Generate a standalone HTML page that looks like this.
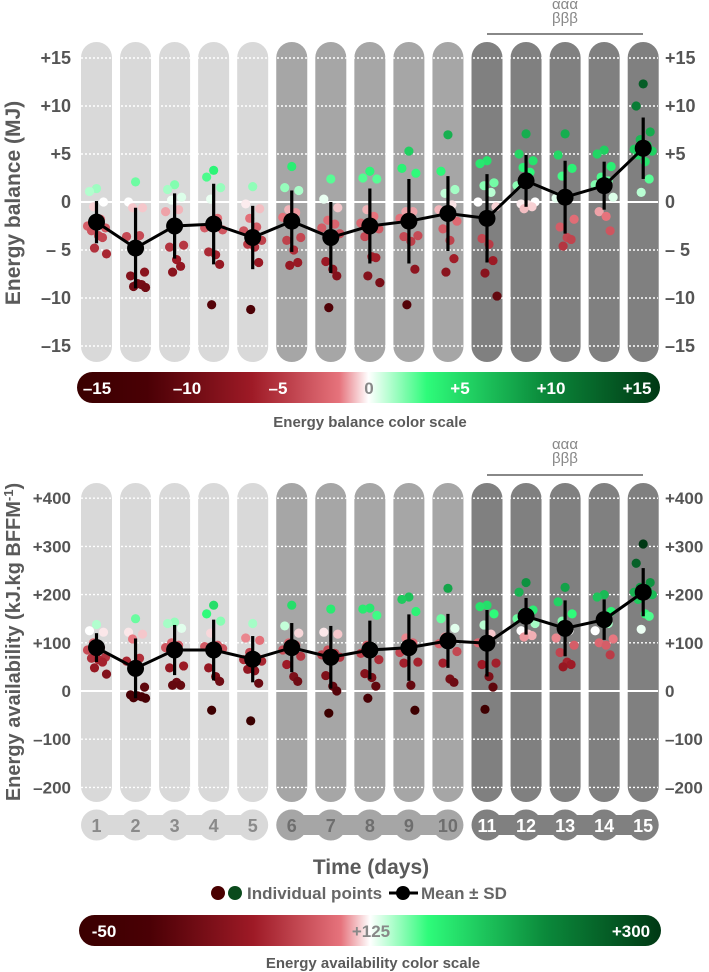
<!DOCTYPE html>
<html><head><meta charset="utf-8">
<style>
html,body{margin:0;padding:0;background:#fff;}
svg{display:block;font-family:"Liberation Sans",sans-serif;font-weight:bold;}
</style></head>
<body>
<svg id="fig" width="709" height="972" viewBox="0 0 709 972" xmlns="http://www.w3.org/2000/svg">
<defs>
<linearGradient id="gradEB" x1="0" x2="1" y1="0" y2="0">
<stop offset="0" stop-color="#3a0000"/><stop offset="0.12" stop-color="#4a0005"/><stop offset="0.3" stop-color="#9e1a26"/>
<stop offset="0.45" stop-color="#e6737c"/><stop offset="0.5" stop-color="#ffffff"/><stop offset="0.6" stop-color="#2efb7a"/>
<stop offset="0.8" stop-color="#0b8a3b"/><stop offset="1" stop-color="#003814"/>
</linearGradient>
</defs>
<g id="top"></g>
<g id="bottom"></g>
<g id="legend"></g>
</svg>
<script>
// ---------- data ----------
var days = [1,2,3,4,5,6,7,8,9,10,11,12,13,14,15];
var ebMean = [-2.1,-4.8,-2.5,-2.3,-3.7,-2.0,-3.7,-2.5,-2.0,-1.2,-1.7,2.2,0.5,1.7,5.6];
var ebSD   = [2.2,4.2,3.4,4.2,3.3,3.2,3.7,3.9,4.4,3.9,4.6,2.7,3.8,2.5,3.2];
var ebPoints = [
 [1.4,1.1,0,-0.5,-1.8,-2.5,-2.7,-3.0,-3.5,-3.7,-4.8,-5.4],
 [2.1,0,-0.6,-0.6,-3.5,-3.6,-7.3,-7.7,-8.5,-8.6,-8.8,-8.9],
 [1.8,1.3,0.5,0.2,-0.8,-1.0,-4.5,-4.7,-6.0,-6.7,-7.3],
 [3.3,2.6,1.5,0.3,-1.7,-2.7,-2.9,-5.2,-5.5,-6.5,-10.7],
 [1.6,-0.2,-0.7,-1.7,-2.6,-3.0,-4.0,-4.4,-4.7,-6.3,-11.2],
 [3.7,1.5,1.2,-0.8,-1.1,-1.6,-3.7,-4.0,-5.0,-6.3,-6.6],
 [2.4,0.3,-0.6,-1.9,-2.3,-2.7,-3.3,-6.2,-7.0,-7.7,-11.0],
 [3.2,2.5,2.4,-0.8,-1.5,-2.2,-2.8,-3.6,-5.7,-5.8,-7.7,-8.4],
 [5.3,3.5,3.0,-1.0,-1.0,-1.7,-3.5,-3.6,-4.1,-7.0,-10.7],
 [7.0,3.2,1.3,0.9,-0.3,-0.8,-2.0,-2.8,-4.0,-5.9,-7.3],
 [4.3,4.0,2.0,1.7,1.0,0,-0.5,-3.8,-4.4,-6.1,-7.4,-9.8],
 [7.1,5.0,4.3,3.6,3.1,1.7,0,-0.2,-0.3,-0.5,-0.7],
 [7.1,4.9,3.5,2.7,0.5,0.4,-1.8,-2.6,-3.7,-3.9,-4.6],
 [5.4,5.0,3.7,2.6,2.2,1.8,0.5,-1.0,-1.5,-3.0],
 [12.3,10.0,7.3,6.5,5.9,5.5,5.3,4.9,4.2,2.4,1.0]
];
var eaMean = [90,47,85,85,66,90,70,85,90,104,99,155,130,148,205];
var eaSD   = [30,62,52,63,48,51,65,61,69,56,69,38,58,42,50];
var eaPoints = [
 [138,125,122,100,90,85,70,68,65,60,48,35],
 [150,122,118,108,68,62,8,-8,-10,-12,-14,-15],
 [143,140,130,100,95,90,52,48,18,12,12],
 [178,160,145,120,95,92,88,48,30,20,-40],
 [140,110,105,80,70,65,62,45,42,16,-62],
 [178,135,120,100,95,85,72,55,30,20],
 [170,122,118,85,78,75,70,32,10,0,-46],
 [172,170,157,95,85,78,65,36,28,10,-15],
 [195,190,165,110,100,80,60,58,12,-40],
 [213,150,130,112,105,98,82,58,25,18],
 [178,175,160,137,118,100,58,55,30,8,-38],
 [225,205,168,162,155,150,140,125,118,115,112],
 [215,185,160,145,125,110,95,80,60,55,50],
 [200,195,165,150,140,125,108,100,95,75],
 [305,265,225,215,210,205,200,190,160,155,128]
];
var ebTicks = [15,10,5,0,-5,-10,-15];
var ebTickLabels = ["+15","+10","+5","0","\u2013 5","\u201310","\u201315"];
var eaTicks = [400,300,200,100,0,-100,-200];
var eaTickLabels = ["+400","+300","+200","+100","0","\u2013100","\u2013200"];
var ebScaleLabels = ["\u201315","\u201310","\u20135","0","+5","+10","+15"];
var ebScaleValues = [-15,-10,-5,0,5,10,15];

// ---------- helpers ----------
var NS="http://www.w3.org/2000/svg";
function mk(parent,tag,attrs,text){var e=document.createElementNS(NS,tag);for(var k in attrs)e.setAttribute(k,attrs[k]);if(text!==undefined)e.textContent=text;parent.appendChild(e);return e;}
function xc(i){return 96.5+i*39.05;}
function yTop(v){return 202-v*9.6;}
function yBot(v){return 691-v*0.482;}
var stops=[[0,[58,0,0]],[0.12,[74,0,5]],[0.3,[158,26,38]],[0.45,[230,115,124]],[0.5,[255,255,255]],[0.6,[46,251,122]],[0.8,[11,138,59]],[1,[0,56,20]]];
function colorAt(t){t=Math.max(0,Math.min(1,t));for(var i=1;i<stops.length;i++){if(t<=stops[i][0]){var a=stops[i-1],b=stops[i];var f=(t-a[0])/(b[0]-a[0]);var c=a[1].map(function(v,k){return Math.round(v+(b[1][k]-v)*f);});return "rgb("+c.join(",")+")";}}return "rgb(0,56,20)";}
var jit=[0,-7,7,-3,4,-9,9,-5,2,6,-2,10];
function groupFill(i){return i<5?"#d9d9d9":(i<10?"#a6a6a6":"#808080");}

function panel(g,cfg){
  // columns
  days.forEach(function(d,i){
    var r=mk(g,"rect",{x:xc(i)-15.5,y:cfg.colTop,width:31,height:cfg.colBot-cfg.colTop,rx:15.5,fill:groupFill(i)});
    
    
  });
  // grid
  cfg.ticks.forEach(function(t,k){
    var y=cfg.y(t);
    if(t===0){var l=mk(g,"line",{x1:81,x2:658,y1:y,y2:y,stroke:"#fff","stroke-width":2});}
    else{var l2=mk(g,"line",{x1:81,x2:658,y1:y,y2:y,stroke:"#fff","stroke-width":1.4,"stroke-dasharray":"2 2"});}
    var tl=mk(g,"text",{x:71,y:y+6,"text-anchor":"end","font-size":cfg.fs,fill:"#555"},cfg.labels[k]);
    
    var tr=mk(g,"text",{x:665,y:y+6,"font-size":cfg.fs,fill:"#555"},cfg.labels[k]);
    
  });
  // points
  cfg.points.forEach(function(arr,i){
    arr.forEach(function(v,j){
      var c=mk(g,"circle",{cx:xc(i)+jit[j%jit.length],cy:cfg.y(v),r:4.6,fill:colorAt(cfg.t(v))});
      
      
    });
  });
  // error bars
  cfg.mean.forEach(function(m,i){
    var e=mk(g,"line",{x1:xc(i),x2:xc(i),y1:cfg.y(m+cfg.sd[i]),y2:cfg.y(m-cfg.sd[i]),stroke:"#000","stroke-width":3.2});
    
    
  });
  var pts=cfg.mean.map(function(m,i){return xc(i)+","+cfg.y(m);}).join(" ");
  var pl=mk(g,"polyline",{points:pts,fill:"none",stroke:"#000","stroke-width":3});
  
  cfg.mean.forEach(function(m,i){
    var c=mk(g,"circle",{cx:xc(i),cy:cfg.y(m),r:8.5,fill:"#000"});
    
    
  });
  // significance
  var s1=mk(g,"text",{x:565,y:cfg.sigY,"text-anchor":"middle","font-size":15,"font-weight":"normal",fill:"#888"},"\u03b1\u03b1\u03b1");
  
  var s2=mk(g,"text",{x:565,y:cfg.sigY+14,"text-anchor":"middle","font-size":15,"font-weight":"normal",fill:"#888"},"\u03b2\u03b2\u03b2");
  
  var sl=mk(g,"line",{x1:487,x2:643,y1:cfg.sigLine,y2:cfg.sigLine,stroke:"#888","stroke-width":2});
  
  // y title
  var yt=mk(g,"text",{x:0,y:0,"text-anchor":"middle","font-size":cfg.tfs,fill:"#5a5a5a",transform:"translate("+cfg.tx+","+cfg.ty+") rotate(-90)"});
  
  cfg.title(yt);
}

var gTop=document.getElementById("top");
panel(gTop,{colTop:42,colBot:362,ticks:ebTicks,labels:ebTickLabels,y:yTop,fs:18,points:ebPoints,mean:ebMean,sd:ebSD,
  t:function(v){return (v+15)/30;},sigY:9,sigLine:34,tx:20,ty:203,tfs:21,
  title:function(el){el.textContent="Energy balance (MJ)";}});
var gBot=document.getElementById("bottom");
panel(gBot,{colTop:483,colBot:802,ticks:eaTicks,labels:eaTickLabels,y:yBot,fs:17,points:eaPoints,mean:eaMean,sd:eaSD,
  t:function(v){return (v+50)/350;},sigY:449,sigLine:475,tx:20,ty:642,tfs:20,
  title:function(el){el.appendChild(document.createTextNode("Energy availability (kJ.kg BFFM"));var s=document.createElementNS(NS,"tspan");s.setAttribute("dy","-7");s.setAttribute("font-size","13");s.textContent="-1";el.appendChild(s);var s2=document.createElementNS(NS,"tspan");s2.setAttribute("dy","7");s2.textContent=")";el.appendChild(s2);}});

// color scale 1
var bar1=mk(gTop,"rect",{x:77,y:372,width:583,height:31,rx:15.5,fill:"url(#gradEB)"});

ebScaleValues.forEach(function(v,k){
  var x = k===0?97:(k===ebScaleValues.length-1?637:369+v*18.2);
  var t=mk(gTop,"text",{x:x,y:394,"text-anchor":"middle","font-size":17,fill:v===0?"#888":"#fff"},ebScaleLabels[k]);
  
});
var ct1=mk(gTop,"text",{x:370,y:427,"text-anchor":"middle","font-size":15,fill:"#5a5a5a"},"Energy balance color scale");


// day pills
var gL=document.getElementById("legend");
[[0,4],[5,9],[10,14]].forEach(function(gr){
  var f=groupFill(gr[0]);
  var b=mk(gL,"rect",{x:xc(gr[0]),y:815,width:xc(gr[1])-xc(gr[0]),height:20,fill:f});
  
});
days.forEach(function(d,i){
  var c=mk(gL,"circle",{cx:xc(i),cy:825,r:15.5,fill:groupFill(i)});
  
  var t=mk(gL,"text",{x:xc(i),y:832,"text-anchor":"middle","font-size":18,fill:i<5?"#8a8a8a":(i<10?"#6e6e6e":"#fff")},String(d));
  
});
var xt=mk(gL,"text",{x:371,y:874,"text-anchor":"middle","font-size":21,fill:"#5a5a5a"},"Time (days)");

var d1=mk(gL,"circle",{cx:218,cy:893,r:7,fill:"#4a0000"});
var d2=mk(gL,"circle",{cx:235,cy:893,r:7,fill:"#0a4a1c"});
var lt=mk(gL,"text",{x:247,y:899,"font-size":17,fill:"#666"},"Individual points");
var ll=mk(gL,"line",{x1:389,x2:418,y1:893,y2:893,stroke:"#000","stroke-width":3});
var lc=mk(gL,"circle",{cx:403,cy:893,r:7,fill:"#000"});
var lt2=mk(gL,"text",{x:421,y:899,"font-size":17,fill:"#666"},"Mean \u00b1 SD");
var bar2=mk(gL,"rect",{x:79,y:915,width:582,height:31,rx:15.5,fill:"url(#gradEB)"});

var b1=mk(gL,"text",{x:104,y:937,"text-anchor":"middle","font-size":17,fill:"#fff"},"-50");
var b2=mk(gL,"text",{x:371,y:937,"text-anchor":"middle","font-size":17,fill:"#888"},"+125");
var b3=mk(gL,"text",{x:631,y:937,"text-anchor":"middle","font-size":17,fill:"#fff"},"+300");
var ct2=mk(gL,"text",{x:373,y:968,"text-anchor":"middle","font-size":15,fill:"#5a5a5a"},"Energy availability color scale");

</script>
</body></html>
